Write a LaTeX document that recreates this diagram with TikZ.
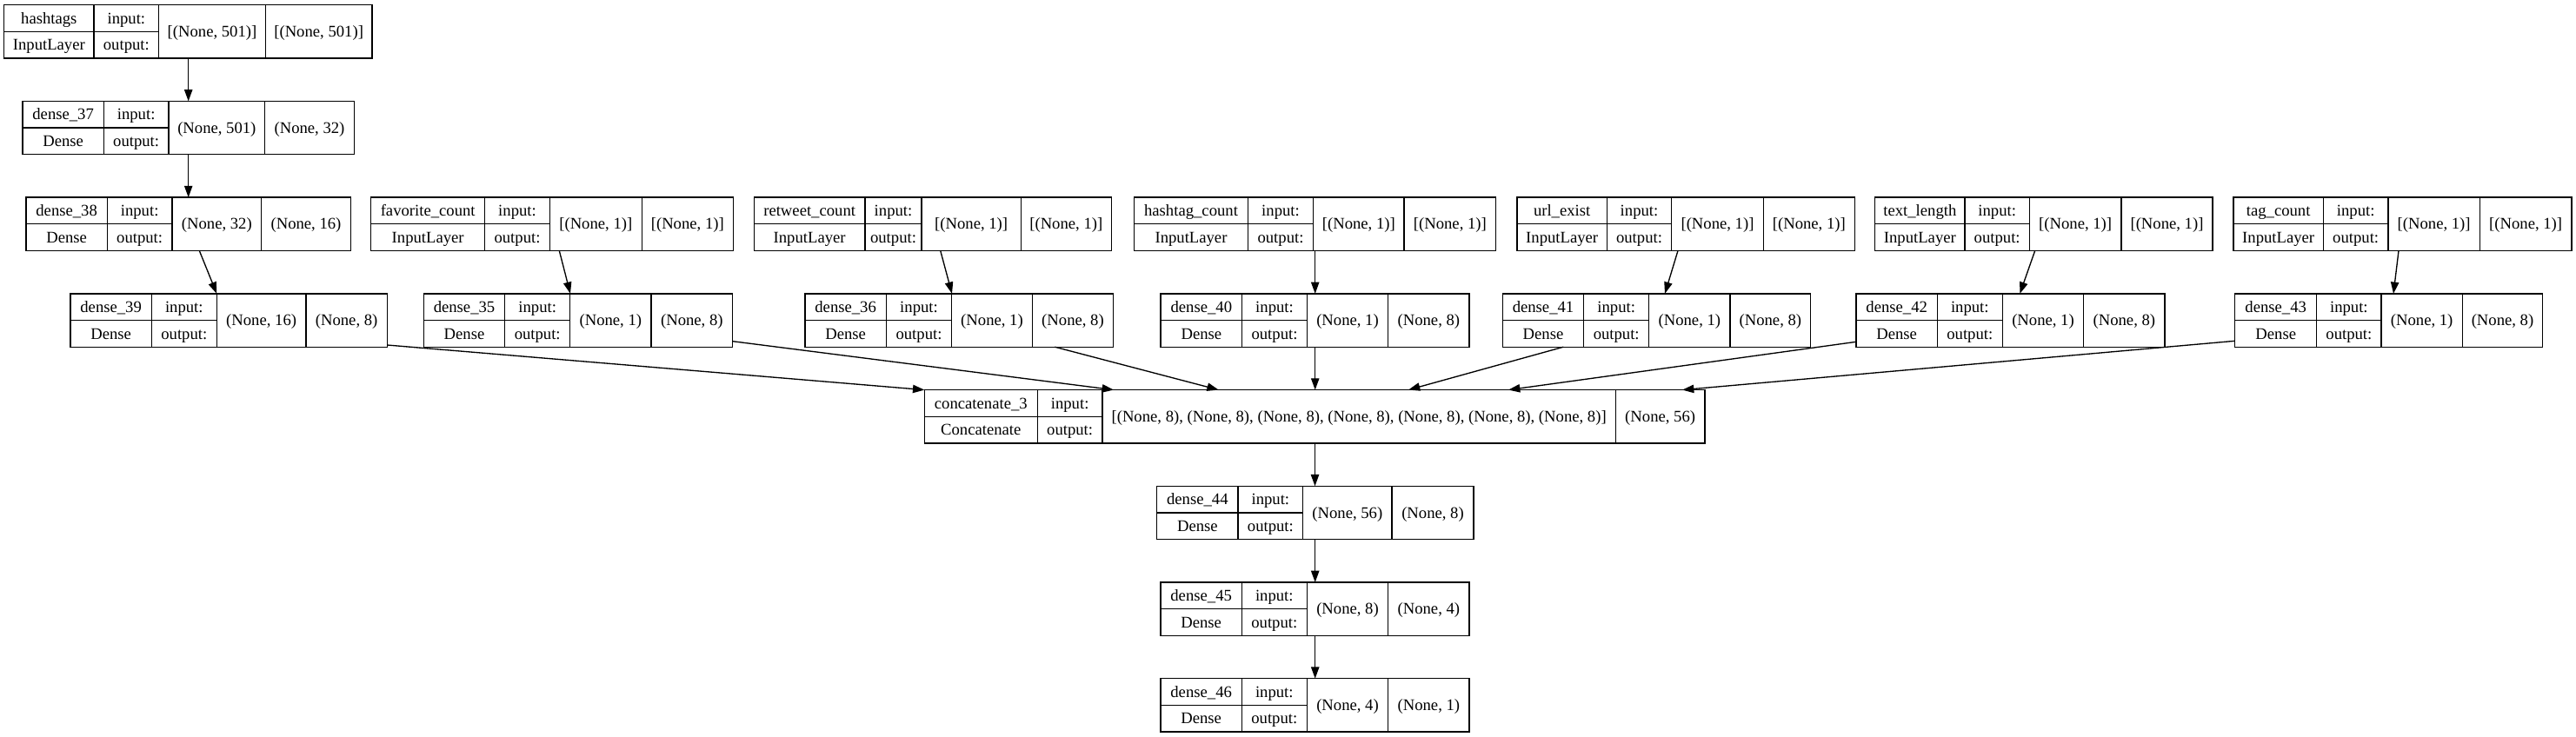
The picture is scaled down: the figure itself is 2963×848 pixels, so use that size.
\documentclass[tikz,border=0pt]{standalone}
\usepackage{fontspec}
\setmainfont{Liberation Serif}
\usetikzlibrary{arrows.meta,calc}
\tikzset{
  box/.style={draw, line width=1pt, rectangle, inner sep=0pt, outer sep=0pt, anchor=north west},
  divl/.style={line width=1pt},
  lbl/.style={inner sep=0pt, text height=9.3pt, text depth=0pt, font=\fontsize{14}{16}\selectfont},
  arr/.style={line width=1pt, -{Triangle[length=10pt,width=7pt]}},
}
\newcommand\kLayer[7]{%
  \def\kXa{#2}\def\kXb{#3}\def\kXc{#4}\def\kXd{#5}\def\kXe{#6}\def\kY{#7}%
  \node[box, minimum width={(#6-#2)*0.75pt}, minimum height={61.3*0.75pt}] (#1) at (#2,#7) {};
  \draw[divl] (#3,#7) -- (#3,#7+61.3) (#4,#7) -- (#4,#7+61.3) (#5,#7) -- (#5,#7+61.3) (#2,#7+30.65) -- (#4,#7+30.65);
}
\newcommand\kText[5]{%
  \node[lbl] (#1-t) at ({(\kXa+\kXb)/2},\kY+15.3) {#2};
  \node[lbl] (#1-y) at ({(\kXa+\kXb)/2},\kY+46) {#3};
  \node[lbl] (#1-il) at ({(\kXb+\kXc)/2},\kY+15.3) {input:};
  \node[lbl] (#1-ol) at ({(\kXb+\kXc)/2},\kY+46) {output:};
  \node[lbl] (#1-i) at ({(\kXc+\kXd)/2},\kY+30.65) {#4};
  \node[lbl] (#1-o) at ({(\kXd+\kXe)/2},\kY+30.65) {#5};
}
\begin{document}
\begin{tikzpicture}[x=0.75pt,y=-0.75pt]
\fill[white] (0,0) rectangle (2963,848);
\useasboundingbox (0,0) rectangle (2963,848);
% row 0
\kLayer{hashtags}{4.7}{108}{182.7}{305.3}{428}{5.7}
\kText{hashtags}{hashtags}{InputLayer}{[(None, 501)]}{[(None, 501)]}
% row 1
\kLayer{d37}{26}{119.3}{194}{304.7}{407.3}{116.4}
\kText{d37}{dense\_37}{Dense}{(None, 501)}{(None, 32)}
% row 2
\kLayer{d38}{30}{123.3}{198}{300.7}{403.3}{227.1}
\kText{d38}{dense\_38}{Dense}{(None, 32)}{(None, 16)}
\kLayer{fav}{426.7}{557.7}{632.3}{738.3}{843.3}{227.1}
\kText{fav}{favorite\_count}{InputLayer}{[(None, 1)]}{[(None, 1)]}
\kLayer{rt}{867.3}{995}{1060}{1174.3}{1278.3}{227.1}
\kText{rt}{retweet\_count}{InputLayer}{[(None, 1)]}{[(None, 1)]}
\kLayer{hc}{1304.7}{1435.3}{1510.7}{1615}{1720.7}{227.1}
\kText{hc}{hashtag\_count}{InputLayer}{[(None, 1)]}{[(None, 1)]}
\kLayer{url}{1745}{1848.3}{1922.7}{2028.3}{2133.3}{227.1}
\kText{url}{url\_exist}{InputLayer}{[(None, 1)]}{[(None, 1)]}
\kLayer{tl}{2156.7}{2260}{2334.3}{2440}{2545}{227.1}
\kText{tl}{text\_length}{InputLayer}{[(None, 1)]}{[(None, 1)]}
\kLayer{tag}{2569}{2672.3}{2747}{2852.3}{2958}{227.1}
\kText{tag}{tag\_count}{InputLayer}{[(None, 1)]}{[(None, 1)]}
% row 3
\kLayer{d39}{81}{174.3}{249.3}{352}{445.3}{337.9}
\kText{d39}{dense\_39}{Dense}{(None, 16)}{(None, 8)}
\kLayer{d35}{487.3}{580.7}{655.7}{749}{842.7}{337.9}
\kText{d35}{dense\_35}{Dense}{(None, 1)}{(None, 8)}
\kLayer{d36}{926}{1019.3}{1094.7}{1187.3}{1280.7}{337.9}
\kText{d36}{dense\_36}{Dense}{(None, 1)}{(None, 8)}
\kLayer{d40}{1335}{1428.7}{1503.3}{1596.7}{1690}{337.9}
\kText{d40}{dense\_40}{Dense}{(None, 1)}{(None, 8)}
\kLayer{d41}{1728.3}{1821.7}{1896.7}{1990}{2082.7}{337.9}
\kText{d41}{dense\_41}{Dense}{(None, 1)}{(None, 8)}
\kLayer{d42}{2135}{2228.3}{2303.3}{2396.7}{2490}{337.9}
\kText{d42}{dense\_42}{Dense}{(None, 1)}{(None, 8)}
\kLayer{d43}{2570.7}{2664.7}{2739}{2832.3}{2924.7}{337.9}
\kText{d43}{dense\_43}{Dense}{(None, 1)}{(None, 8)}
% row 4
\kLayer{concat}{1063.3}{1193.3}{1268}{1858.3}{1961}{448.6}
\kText{concat}{concatenate\_3}{Concatenate}{[(None, 8), (None, 8), (None, 8), (None, 8), (None, 8), (None, 8), (None, 8)]}{(None, 56)}
% rows 5-7
\kLayer{d44}{1330.7}{1424}{1498.7}{1601}{1695}{559.3}
\kText{d44}{dense\_44}{Dense}{(None, 56)}{(None, 8)}
\kLayer{d45}{1335}{1428.3}{1503.3}{1596.7}{1690}{670}
\kText{d45}{dense\_45}{Dense}{(None, 8)}{(None, 4)}
\kLayer{d46}{1335}{1428.3}{1503.3}{1596.7}{1690}{780.7}
\kText{d46}{dense\_46}{Dense}{(None, 4)}{(None, 1)}
% edges
\draw[arr] (216.7,0 |- hashtags.south) -- (216.7,0 |- d37.north);
\draw[arr] (216.7,0 |- d37.south) -- (216.7,0 |- d38.north);
\draw[arr] (229.3,0 |- d38.south) -- (249.3,0 |- d39.north);
\draw[arr] (643.3,0 |- fav.south) -- (656,0 |- d35.north);
\draw[arr] (1081.7,0 |- rt.south) -- (1095,0 |- d36.north);
\draw[arr] (1512.7,0 |- hc.south) -- (1512.7,0 |- d40.north);
\draw[arr] (1930,0 |- url.south) -- (1915,0 |- d41.north);
\draw[arr] (2340.7,0 |- tl.south) -- (2323.3,0 |- d42.north);
\draw[arr] (2759,0 |- tag.south) -- (2753,0 |- d43.north);
\draw[arr] (d39.east |- 0,397) -- (concat.north west);
\draw[arr] (d35.east |- 0,392.7) -- (1281,0 |- concat.north);
\draw[arr] (1213.3,0 |- d36.south) -- (1401.7,0 |- concat.north);
\draw[arr] (1512.7,0 |- d40.south) -- (1512.7,0 |- concat.north);
\draw[arr] (1798.3,0 |- d41.south) -- (1620,0 |- concat.north);
\draw[arr] (d42.west |- 0,393.3) -- (1735,0 |- concat.north);
\draw[arr] (d43.west |- 0,392.3) -- (1935,0 |- concat.north);
\draw[arr] (1512.5,0 |- concat.south) -- (1512.5,0 |- d44.north);
\draw[arr] (1512.7,0 |- d44.south) -- (1512.7,0 |- d45.north);
\draw[arr] (1512.7,0 |- d45.south) -- (1512.7,0 |- d46.north);
\end{tikzpicture}
\end{document}
